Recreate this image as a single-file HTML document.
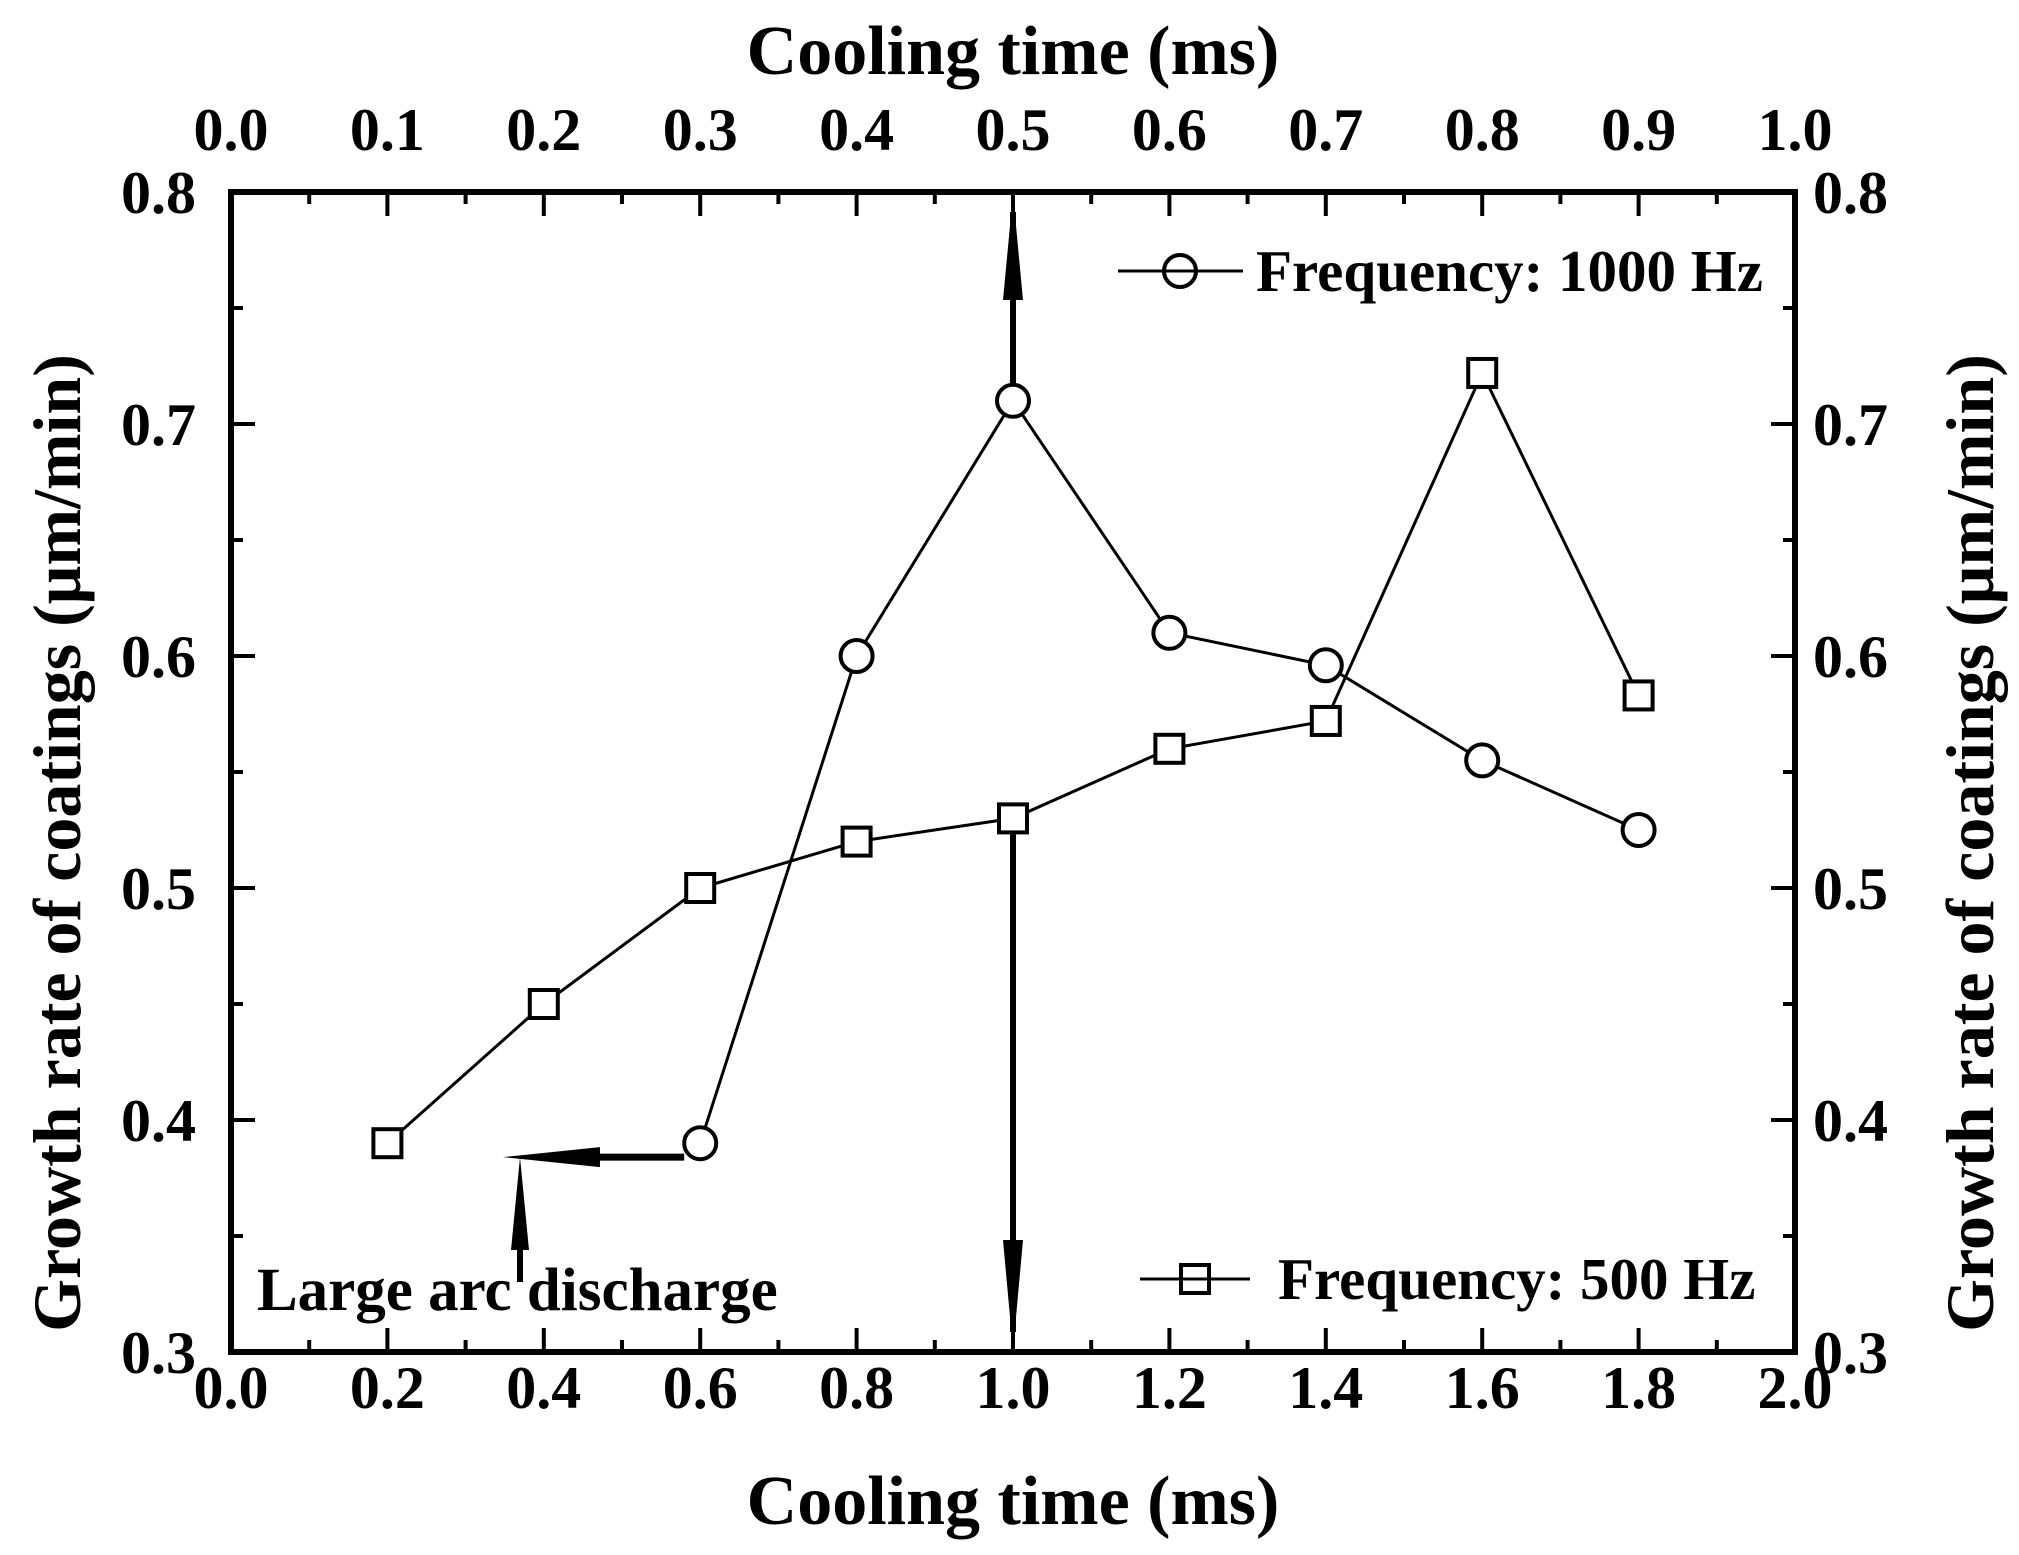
<!DOCTYPE html>
<html><head><meta charset="utf-8"><style>
html,body{margin:0;padding:0;background:#fff;}
svg{display:block;font-family:"Liberation Serif",serif;font-weight:bold;}
</style></head><body>
<svg id="chart" width="2019" height="1555" viewBox="0 0 2019 1555" xmlns="http://www.w3.org/2000/svg">
<g id="axes"></g>
<g id="marks"></g>
</svg>
<script>
const xCats=[0.2,0.4,0.6,0.8,1.0,1.2,1.4,1.6,1.8];
const f1000X=[0.6,0.8,1.0,1.2,1.4,1.6,1.8];
const f1000Y=[0.39,0.60,0.71,0.61,0.596,0.555,0.525];
const f500X=[0.2,0.4,0.6,0.8,1.0,1.2,1.4,1.6,1.8];
const f500Y=[0.39,0.45,0.50,0.52,0.53,0.56,0.572,0.722,0.583];
const bottomTicks=["0.0","0.2","0.4","0.6","0.8","1.0","1.2","1.4","1.6","1.8","2.0"];
const topTicks=["0.0","0.1","0.2","0.3","0.4","0.5","0.6","0.7","0.8","0.9","1.0"];
const yTicks=["0.3","0.4","0.5","0.6","0.7","0.8"];

const L=231,R=1795,T=192,B=1352;
const X=v=>L+(v-0)/(2.0)*(R-L);
const Y=v=>B-(v-0.3)/(0.5)*(B-T);
const NS="http://www.w3.org/2000/svg";
const axes=document.getElementById('axes'), marks=document.getElementById('marks');
function mk(tag,attrs,parent,text){const e=document.createElementNS(NS,tag);for(const k in attrs)e.setAttribute(k,attrs[k]);if(text!==undefined)e.textContent=text;parent.appendChild(e);return e;}

let fr=mk('rect',{x:L,y:T,width:R-L,height:B-T,fill:'none',stroke:'#000','stroke-width':6},axes);



for(let i=0;i<=20;i++){const v=i*0.1,x=X(v);const major=i%2===0;
 let t=mk('line',{x1:x,y1:B,x2:x,y2:B-(major?24:12),stroke:'#000','stroke-width':4},axes);
 
 
 let t2=mk('line',{x1:x,y1:T,x2:x,y2:T+(major?24:12),stroke:'#000','stroke-width':4},axes);
 
 
}
bottomTicks.forEach((s,i)=>{let e=mk('text',{x:X(i*0.2),y:1408,'text-anchor':'middle','font-size':60},axes,s);
 
 });
topTicks.forEach((s,i)=>{let e=mk('text',{x:X(i*0.2),y:150,'text-anchor':'middle','font-size':60},axes,s);
 
 });
for(let i=0;i<=10;i++){const v=0.3+i*0.05,y=Y(v);const major=i%2===0;
 let a=mk('line',{x1:L,y1:y,x2:L+(major?24:12),y2:y,stroke:'#000','stroke-width':4},axes);
 
 
 let b=mk('line',{x1:R,y1:y,x2:R-(major?24:12),y2:y,stroke:'#000','stroke-width':4},axes);
 
 
}
yTicks.forEach((s,i)=>{const y=Y(0.3+i*0.1)+21;
 let a=mk('text',{x:196,y:y,'text-anchor':'end','font-size':60},axes,s);
 
 
 let b=mk('text',{x:1813,y:y,'text-anchor':'start','font-size':60},axes,s);
 
 });
let tt=mk('text',{x:1013,y:74,'text-anchor':'middle','font-size':70},axes,'Cooling time (ms)');


let bt=mk('text',{x:1013,y:1524,'text-anchor':'middle','font-size':70},axes,'Cooling time (ms)');


let lt=mk('text',{x:0,y:0,'text-anchor':'middle','font-size':68,transform:'translate(80,843) rotate(-90)'},axes,'Growth rate of coatings (\u03bcm/min)');


let rt=mk('text',{x:0,y:0,'text-anchor':'middle','font-size':68,transform:'translate(1993,843) rotate(-90)'},axes,'Growth rate of coatings (\u03bcm/min)');



function poly(pts,name){let p=mk('polygon',{points:pts.map(q=>q.join(',')).join(' '),fill:'#000'},marks);
 
 }
function line(x1,y1,x2,y2,w,name){let l=mk('line',{x1,y1,x2,y2,stroke:'#000','stroke-width':w},marks);
 
 }
const ax=X(1.0);
line(ax,Y(0.71)-16,ax,T+20,6,'up-arrow-shaft');
poly([[ax,T+2],[ax-10,300],[ax+10,300]],'up-arrow-head');
line(ax,Y(0.53)+16,ax,B-20,6,'down-arrow-shaft');
poly([[ax,B-2],[ax-10,1240],[ax+10,1240]],'down-arrow-head');
const hy=Y(0.384);
line(X(0.6)-16,hy,590,hy,7,'left-arrow-shaft');
poly([[503,hy],[600,hy-10],[600,hy+10]],'left-arrow-head');
line(520,1282,520,1240,6,'arc-arrow-shaft');
poly([[520,hy],[511,1250],[529,1250]],'arc-arrow-head');
let la=mk('text',{x:257,y:1310,'font-size':61},marks,'Large arc discharge');



let p5=mk('polyline',{points:f500X.map((v,i)=>X(v)+','+Y(f500Y[i])).join(' '),fill:'none',stroke:'#000','stroke-width':3},marks);


let p1=mk('polyline',{points:f1000X.map((v,i)=>X(v)+','+Y(f1000Y[i])).join(' '),fill:'none',stroke:'#000','stroke-width':3},marks);


f500X.forEach((v,i)=>{let s=mk('rect',{x:X(v)-14,y:Y(f500Y[i])-14,width:28,height:28,fill:'#fff',stroke:'#000','stroke-width':4},marks);
 
 });
f1000X.forEach((v,i)=>{let c=mk('circle',{cx:X(v),cy:Y(f1000Y[i]),r:16,fill:'#fff',stroke:'#000','stroke-width':4},marks);
 
 });

const lg=mk('g',{},marks);


line(1118,271,1243,271,3,'legend-line-1000hz');
let lc=mk('circle',{cx:1180,cy:271,r:16,fill:'#fff',stroke:'#000','stroke-width':4},lg);


let lt1=mk('text',{x:1256,y:291,'font-size':59},lg,'Frequency: 1000 Hz');


line(1140,1279,1250,1279,3,'legend-line-500hz');
let ls=mk('rect',{x:1181,y:1265,width:28,height:28,fill:'#fff',stroke:'#000','stroke-width':4},lg);


let lt2=mk('text',{x:1278,y:1299,'font-size':59},lg,'Frequency: 500 Hz');


</script>
</body></html>
